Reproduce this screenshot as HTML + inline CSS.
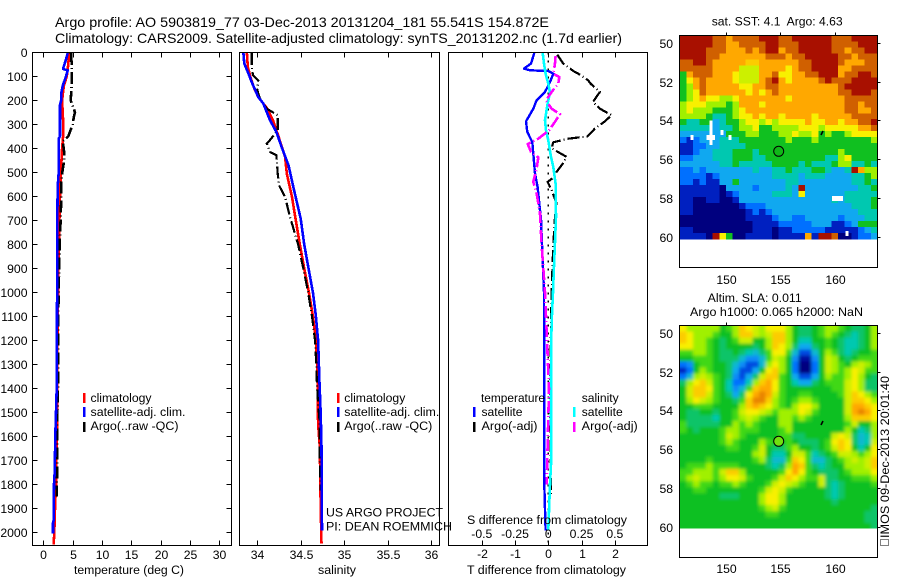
<!DOCTYPE html>
<html><head><meta charset="utf-8"><title>Argo profile</title>
<style>
html,body{margin:0;padding:0;background:#fff}
svg{display:block}
text{font-family:"Liberation Sans",sans-serif;font-size:12.2px;fill:#000;white-space:pre}
.b{fill:none;stroke:#000;stroke-width:1;shape-rendering:crispEdges}
</style></head><body>
<svg id="root" xmlns="http://www.w3.org/2000/svg" width="900" height="580" viewBox="0 0 900 580">
<defs>
<clipPath id="cp1"><rect x="32.5" y="52.5" width="199" height="493"/></clipPath>
<clipPath id="cp2"><rect x="239.5" y="52.5" width="200" height="493"/></clipPath>
<clipPath id="cp3"><rect x="448.5" y="52.5" width="199" height="493"/></clipPath>
<clipPath id="cpm2"><rect x="679.5" y="325.5" width="198" height="203"/></clipPath>
<filter id="slaBlur" filterUnits="userSpaceOnUse" x="650" y="300" width="250" height="260"><feGaussianBlur stdDeviation="1.7"/></filter>
</defs>
<text x="55" y="27" style="font-size:14px" textLength="494" lengthAdjust="spacingAndGlyphs">Argo profile: AO 5903819_77 03-Dec-2013 20131204_181 55.541S 154.872E</text>
<text x="55" y="43" style="font-size:14px" textLength="567" lengthAdjust="spacingAndGlyphs">Climatology: CARS2009. Satellite-adjusted climatology: synTS_20131202.nc (1.7d earlier)</text>
<g id="p1" clip-path="url(#cp1)"></g>
<g id="p2" clip-path="url(#cp2)"></g>
<g id="p3" clip-path="url(#cp3)"></g>
<g id="axes"></g>
<rect class="b" x="32.5" y="52.5" width="199" height="493"/>
<rect class="b" x="239.5" y="52.5" width="200" height="493"/>
<rect class="b" x="448.5" y="52.5" width="199" height="493"/>
<text x="74" y="574" textLength="110" lengthAdjust="spacingAndGlyphs">temperature (deg C)</text>
<text x="318" y="574" textLength="38" lengthAdjust="spacingAndGlyphs">salinity</text>
<text x="467" y="574" textLength="159" lengthAdjust="spacingAndGlyphs">T difference from climatology</text>
<text x="467" y="524" textLength="160" lengthAdjust="spacingAndGlyphs">S difference from climatology</text>
<g shape-rendering="crispEdges">
<rect x="83" y="393" width="2.5" height="10" fill="#f00"/>
<rect x="83" y="407" width="2.5" height="10" fill="#00f"/>
<rect x="83" y="422" width="2.5" height="10" fill="#000"/>
</g>
<text x="90.5" y="402" textLength="61" lengthAdjust="spacingAndGlyphs">climatology</text>
<text x="90.5" y="416" textLength="95" lengthAdjust="spacingAndGlyphs">satellite-adj. clim.</text>
<text x="90.5" y="430" textLength="88" lengthAdjust="spacingAndGlyphs">Argo(..raw -QC)</text>
<g shape-rendering="crispEdges">
<rect x="337" y="393" width="2.5" height="10" fill="#f00"/>
<rect x="337" y="407" width="2.5" height="10" fill="#00f"/>
<rect x="337" y="422" width="2.5" height="10" fill="#000"/>
</g>
<text x="344.3" y="402" textLength="61" lengthAdjust="spacingAndGlyphs">climatology</text>
<text x="344.3" y="416" textLength="95" lengthAdjust="spacingAndGlyphs">satellite-adj. clim.</text>
<text x="344.3" y="430" textLength="88" lengthAdjust="spacingAndGlyphs">Argo(..raw -QC)</text>
<g shape-rendering="crispEdges">
<rect x="473" y="407" width="2.5" height="10" fill="#00f"/>
<rect x="473" y="422" width="2.5" height="10" fill="#000"/>
<rect x="573" y="407" width="2.5" height="10" fill="#0ff"/>
<rect x="573" y="422" width="2.5" height="10" fill="#f0f"/>
</g>
<text x="481" y="402" textLength="64" lengthAdjust="spacingAndGlyphs">temperature</text>
<text x="481.5" y="416" textLength="41" lengthAdjust="spacingAndGlyphs">satellite</text>
<text x="481.5" y="430" textLength="56" lengthAdjust="spacingAndGlyphs">Argo(-adj)</text>
<text x="581.7" y="402" textLength="37" lengthAdjust="spacingAndGlyphs">salinity</text>
<text x="581.7" y="416" textLength="41" lengthAdjust="spacingAndGlyphs">satellite</text>
<text x="581.7" y="430" textLength="56" lengthAdjust="spacingAndGlyphs">Argo(-adj)</text>
<text x="326" y="516.7" textLength="117" lengthAdjust="spacingAndGlyphs">US ARGO PROJECT</text>
<text x="326" y="530.7" textLength="126" lengthAdjust="spacingAndGlyphs">PI: DEAN ROEMMICH</text>

<text x="711.7" y="25.7" textLength="131" lengthAdjust="spacingAndGlyphs">sat. SST: 4.1  Argo: 4.63</text>
<text x="707.7" y="302" textLength="94" lengthAdjust="spacingAndGlyphs">Altim. SLA: 0.011</text>
<text x="690" y="316" textLength="173" lengthAdjust="spacingAndGlyphs">Argo h1000: 0.065 h2000: NaN</text>
<g id="m1" shape-rendering="crispEdges"></g>
<g clip-path="url(#cpm2)"><g id="m2" filter="url(#slaBlur)" shape-rendering="crispEdges"></g></g>
<rect class="b" x="679.5" y="35.5" width="198" height="232"/>
<rect class="b" x="679.5" y="325.5" width="198" height="232"/>
<g id="maxes"></g>
<path d="M821 135 L822 133 L823 131" stroke="#000" stroke-width="1.6" fill="none"/>
<path d="M821 425 L822 423 L823 421" stroke="#000" stroke-width="1.6" fill="none"/>
<circle cx="778.7" cy="151.3" r="5" fill="#10b818" stroke="#000" stroke-width="1"/>
<circle cx="778.7" cy="441.3" r="5" fill="#70e010" stroke="#000" stroke-width="1"/>
<g transform="translate(889,546) rotate(-90)">
<rect x="0.5" y="-8.5" width="6" height="8" fill="none" stroke="#000" stroke-dasharray="1 1"/>
<text x="8" y="0" textLength="162" lengthAdjust="spacingAndGlyphs">IMOS 09-Dec-2013 20:01:40</text>
</g>
</svg>
<script>
const tempTicks=[0,5,10,15,20,25,30];
const salTicks=[34,34.5,35,35.5,36];
const salTickLabels=['34','34.5','35','35.5','36'];
const tDiffTicks=[-2,-1,0,1,2];
const sDiffTicks=[-0.5,-0.25,0,0.25,0.5];
const sDiffLabels=['-0.5','-0.25','0','0.25','0.5'];
const depthTicks=[0,100,200,300,400,500,600,700,800,900,1000,1100,1200,1300,1400,1500,1600,1700,1800,1900,2000];
const lonTicks=[150,155,160];
const latTicks=[50,52,54,56,58,60];

const tempClimDepth=[3,50,100,140,200,300,340,400,500,600,700,800,1000,1200,1400,1500,1700,1800,1900,2000,2050];
const tempClim=[4.4,4.26,4.0,3.5,3.2,3.4,3.4,3.2,3.0,2.85,2.75,2.65,2.5,2.42,2.33,2.4,2.2,2.16,2.0,1.87,1.77];
const tempSatDepth=[3,30,65,70,75,100,140,170,200,220,350,360,500,560,700,1000,1400,1500,1600,1750,1800,1950,1960,2005];
const tempSat=[4.15,3.87,3.4,3.4,4.15,3.87,3.3,3.07,3.05,2.85,2.85,2.62,2.62,2.45,2.38,2.35,2.28,2.16,2.05,1.95,1.82,1.77,1.65,1.65];
const tempArgoDepth=[3,50,100,150,200,250,270,300,350,370,420,460,500,550,600,700,800,1000,1200,1400,1500,1600,1850];
const tempArgo=[4.72,4.83,4.83,4.8,4.66,5.4,5.2,5.0,4.26,3.3,3.58,3.5,3.24,3.05,3.07,2.95,2.8,2.6,2.5,2.5,2.4,2.4,2.3];

const salClimDepth=[3,61,103,151,186,235,283,346,436,505,603,693,800,900,1000,1100,1200,1300,1367,1548,1644,1894,2046];
const salClim=[33.88,33.89,33.92,33.965,34.01,34.115,34.18,34.24,34.32,34.34,34.4,34.44,34.49,34.54,34.595,34.64,34.675,34.69,34.695,34.7,34.72,34.73,34.74];
const salSatDepth=[3,47,90,124,186,214,283,332,394,471,561,693,800,900,1000,1100,1200,1300,1367,1506,1644,1992];
const salSat=[33.84,33.85,33.9,33.935,34.01,34.07,34.146,34.22,34.28,34.36,34.415,34.5,34.54,34.59,34.64,34.675,34.7,34.71,34.715,34.73,34.74,34.745];
const salArgoDepth=[3,61,96,117,158,193,235,262,325,374,380,415,429,505,554,603,686,800,900,1000,1100,1200,1300,1367,1464,1548,1700,1825];
const salArgo=[33.935,33.935,33.95,34.01,34.0,34.03,34.11,34.235,34.235,34.127,34.11,34.146,34.22,34.235,34.25,34.32,34.377,34.47,34.53,34.585,34.63,34.665,34.68,34.685,34.7,34.72,34.72,34.73];

const diffTSatDepth=[3,47,68,75,78,89,124,165,200,235,288,332,374,422,505,561,658,693,800,900,1000,1367,1800,1992];
const diffTSat=[-0.42,-0.52,-0.73,-0.55,0,0.15,0.05,-0.1,-0.35,-0.45,-0.67,-0.63,-0.48,-0.45,-0.4,-0.32,-0.25,-0.22,-0.19,-0.16,-0.13,-0.12,-0.12,-0.08];
const diffSSatDepth=[3,47,89,131,167,214,283,325,367,436,478,547,686,800,900,1000,1100,1200,1367,1500,1700,1800,1992];
const diffSSat=[-0.042,-0.032,-0.02,0,0.0125,-0.005,-0.025,-0.017,0,0.02,0.0376,0.055,0.058,0.05,0.042,0.035,0.027,0.022,0.02,0.02,0.022,0.013,0];
const diffTArgoDepth=[10,47,78,89,117,131,165,207,235,262,290,318,350,360,375,400,436,463,498,522,540,574,630,686,800,1000,1400,1850];
const diffTArgo=[0.27,0.45,0.75,0.9,1.2,1.27,1.55,1.34,1.55,1.9,1.68,1.4,1.18,0.6,0.15,0.1,0.55,0.44,0.25,0.15,-0.02,0.1,0.25,0.2,0.15,0.1,0.05,0.08];
const diffSArgoDepth=[15,50,89,103,131,165,200,235,258,290,325,360,382,415,438,483,540,590,672,800,1000,1400,1800];
const diffSArgo=[0.055,0.05,0.0376,0.083,0.075,0.025,-0.017,0.025,0.088,0.05,0.005,-0.075,-0.155,-0.13,-0.075,-0.087,-0.113,-0.087,-0.0625,-0.05,-0.025,0.005,-0.012];
const zeroLineDepth=[0,2050];
const zeroLine=[0,0];

const sstGrid=[
[10,10,10,10,10,9,9,8,9,9,9,9,10,10,10,9,9,10,10,10,10,10,10,9,9,9,10,10,10,10],
[10,10,10,10,10,9,9,8,8,9,9,9,9,10,10,9,9,9,10,10,10,10,10,9,9,9,9,10,10,10],
[10,10,10,10,9,9,9,8,8,8,9,8,9,10,10,8,9,9,10,10,10,10,10,9,9,8,9,9,10,10],
[10,10,10,10,9,9,8,8,8,8,8,8,8,9,9,9,8,9,9,10,10,10,10,10,9,9,8,9,9,9],
[9,9,10,10,9,8,8,8,8,8,7.5,7.5,8,8,8,8,8,8,9,9,10,10,10,10,9,8,8,8,9,9],
[9,9,9,9,9,8,8,8,8,6.5,6.5,6.5,8,8,8,8,7,8,9,9,10,10,10,10,8,8,9,9,9,9],
[5,8,9,9,9,8,8,8,7,6.5,6.5,6.5,8,8,9,7,7,8,8,9,9,10,10,10,8,9,9,10,10,9],
[5,7,8,9,8,8,8,8,7,6.5,6.5,6.5,8,9,10,8,7,8,8,8,8,9,10,9,9,9,10,10,10,10],
[5,6,8,9,8,8,8,8,8,7,7,8,8,9,9,8,8,8,8,8,8,8,8,8,9,10,10,10,10,10],
[5,6,7,9,8,8,8,8,8,8,7,8,7,8,9,8,8,8,8,8,8,8,8,8,9,9,10,10,10,9],
[5,6,7,8,7,7,6,6,7,8,8,8,8,8,8,8,7,8,8,8,8,8,8,8,8,9,9,9,9,9],
[6,7,7,7,6,6,6,5,6,8,8,8,7,8,8,8,8,8,8,8,8,8,8,8,8,9,9,8,9,9],
[6,7,6,6,6,5,5,5,6,7,8,8,8,8,8,8,8,8,8,8,8,8,8,8,8,9,9,8,8,9],
[6,6,6,6,5,4,4,5,6,7,7,8,7,8,8,7,8,8,8,8,7,8,8,8,8,8,9,9,9,9],
[5,4,4,5,5,3,4,5,5,6,7,7,6,7,6,7,7,7,7,8,7,7,8,8,7,8,8,9,9,10],
[4,4,4,4,4,3,4,4,5,6,6,7,5,5,6,6,6,6,7,7,7,6,7,7,7,7,7,8,8,9],
[3,3,3,3,3,3,3,5,5,5,6,6,5,5,5,6,6,7,6,6,7,5,6,5,5,6,7,7,7,7],
[2,1,2,3,3,3,4,4,4,5,5,5,5,5,5,5,6,5,5,5,6,5,5,5,5,5,5,5,5,6],
[1,1,2,2,3,3,4,4,4,4,5,5,5,5,5,5,5,5,5,5,5,5,5,5,5,5,5,5,5,5],
[1,1,2,3,3,4,4,4,5,5,5,4,5,5,5,5,5,5,5,5,5,5,5,5,6,5,5,5,5,5],
[2,2,3,3,3,4,4,4,5,5,5,4,4,5,5,5,5,5,5,5,5,5,4,4,6,7,5,5,5,5],
[3,3,3,3,3,3,4,4,5,4,4,4,4,4,5,5,5,5,4,5,4,4,4,5,6,6,4,4,5,4],
[2,2,3,2,3,3,3,3,3,3,3,4,3,3,4,4,5,4,4,4,5,5,4,3,3,4,10,8,6,6],
[2,2,2,2,1,2,3,3,3,3,3,3,3,3,4,4,4,4,3,4,4,4,3,3,3,3,4,4,5,6],
[2,2,1,2,1,1,3,3,5,3,3,3,3,3,3,3,4,4,3,3,3,3,3,3,3,3,4,4,5,4],
[1,1,1,1,1,1,0,3,3,3,3,2,3,3,3,3,4,3,10,3,3,3,3,3,3,3,3,4,4,5],
[1,1,1,1,1,1,0,1,2,3,3,3,3,3,4,4,4,3,7,3,3,3,3,3,3,4,4,4,4,4],
[1,1,0,0,1,1,0,0,1,3,3,3,3,3,3,3,3,3,3,3,3,3,3,4,3,4,4,4,4,5],
[1,1,0,0,0,0,0,0,0,1,2,2,2,3,3,3,3,3,3,3,3,3,3,3,3,3,4,4,4,5],
[1,1,0,0,0,0,0,0,0,0,1,2,1,2,3,3,3,3,3,3,3,3,3,3,3,3,3,4,4,4],
[0,0,0,0,0,0,0,0,0,0,1,1,1,1,2,3,3,2,2,3,3,3,3,3,2,3,3,3,4,4],
[0,0,0,0,0,0,0,0,0,0,0,1,1,1,1,2,2,2,2,2,3,3,3,1,1,2,3,5,5,5],
[1,1,0,0,0,0,0,0,0,0,0,1,1,1,0,1,1,2,2,2,2,2,1,1,1,1,1,2,3,4],
[1,1,1,1,0,10,7,5,0,0,1,1,1,1,0,1,1,1,1,8,1,10,10,9,0,0,1,2,2,3]
];
const sstMissingLon=[148.5,148.5,148.5,148.5,148.5,148.25,148.75,149.5,150.25,146.75,159.75,160,160.25,160.5,161];
const sstMissingLat=[54,54.25,54.5,54.75,55,54.75,54.75,54.5,54.75,54.75,57.9,57.9,57.9,57.9,59.7];

const slaGrid=[
[7,6,6,6,6,6,5,5.5,6,7.5,7,6.5,6,7,7,7,6,5,4.5,4.5,5,5.5,6,6,5.5,5,4.5,4.5,5,6],
[7.5,7,6,6,6,5.5,5,5,6,7.5,7.5,6.5,6,6.5,7.5,7.5,6,5,4.5,4.5,5,5.5,6,5.5,5,4.5,4,4.5,5,6],
[7.5,7,6,6,5.5,5,4.5,5,5.5,6.5,6.5,5,5,6,7.5,7.5,6,5,4,4,5,5,5.5,5,4.5,4,4,4.5,5,6],
[7,7,6,6,5.5,5,4.5,5,5,5,5,4.5,5,6,7.5,7,6,4.5,3,3,4.5,5,5.5,5,4.5,4,4,4.5,5,6],
[5.5,5.5,6,6,5.5,5,4.5,4.5,5,4.5,4,3.5,4.5,5.5,7,7,5.5,3.5,1.5,1.5,3.5,5,6,5.5,4.5,4,4.5,5,5,5.5],
[5,5,5.5,5.5,5.5,5,4.5,4.5,4.5,3.5,2.5,2.5,3.5,5.5,6.5,6,5,2.5,0.5,0.5,2.5,5,6.5,6,5,4.5,5,5.5,5.5,5.5],
[2,2.5,5,5.5,5.5,5,5,4.5,3.5,2.5,1.5,1.5,3.5,6,7,6,5,2,0,0,2,5,6.5,6,5.5,5,6,6.5,6,5.5],
[1,2,5,6,5.5,5,5,4.5,3,1.5,1.5,3,5,7,7.5,6,5,2,0,0,2,5,6.5,6,5.5,6,7,6.5,5.5,5.5],
[2,3.5,6,6.5,6,5.5,5,4.5,2.5,1.5,3,4.5,6.5,7.5,7.5,5.5,5,3,1.5,1.5,3,5,6,5.5,5.5,6,7,6,5,4.5],
[4.5,6,7,7.5,6.5,5.5,5,4,2,2,4,6,7.5,8,7,5.5,5,4,3,3,4.5,5,5.5,5.5,5.5,6.5,7,6,4.5,4.5],
[5,6.5,7.5,7.5,7,5.5,5,4,2.5,3.5,5.5,7.5,8,8,7,5.5,5,5,5,5,5,5,5,5.5,5.5,6.5,7,6,4.5,4.5],
[5,6.5,7.5,7.5,6.5,5.5,5,4.5,3,4.5,7,8,8.5,8,6.5,5.5,5,5,5.5,5.5,5,5,5,5,5.5,6.5,7.5,7,6,5.5],
[5,6,7,6.5,6,5.5,5,5,4.5,5.5,7.5,8.5,8.5,7.5,6,5.5,5,5.5,6,6,5.5,5,5,5,5,6.5,7.5,7.5,7,6],
[5,5,5.5,5.5,5.5,5,5,5,5,6,7.5,8,7.5,7,6,5.5,5,6,7,7,6,5,5,5,5,6.5,8,8,7.5,7],
[5,4.5,4.5,5,5,4.5,5,5,5.5,6.5,7,7,6.5,6,5.5,6,6,6,7,6.5,5.5,5,5,5,5,6.5,8,8.5,8,7],
[5,4.5,4.5,4.5,4.5,4,5,5,5.5,6,6.5,6,5.5,5,5,6,6,5.5,6,5.5,5,5,5,5,5,6,7.5,7.5,7.5,7],
[5.5,4.5,4.5,4.5,4.5,4.5,5,5,6,5.5,6,5.5,5,5,5,6,6,5,5,5,5,5,5,5,5,5.5,6.5,5,5,6],
[5.5,5,4.5,5,5,5,5.5,6,6,5.5,5.5,5.5,5,5,5,5.5,6,5,5,5,5,5,5,5,5,6,5,4,4.5,6],
[5,5,5,5,5,5,5.5,6.5,6,5.5,5,5,5,5,5,5.5,5.5,4.5,4.5,5,5,5,5,6.5,7,6.5,4.5,3.5,4,6],
[5,5,5,5,5,5,5.5,6,5.5,5,5,5,6,5.5,5,5,5.5,5,4.5,4.5,4.5,5,5.5,7,7.5,7,4.5,3.5,4,6.5],
[5,5,5,5,5,5,5,5.5,5.5,5,5,5.5,6.5,5,4.5,4.5,5.5,6,5,5,4.5,5,5.5,6.5,7.5,7,5,4,5,7],
[5,5,5,5,5,5,5,5,5,5,5,6,6.5,5,4,4,5,6.5,6.5,5.5,4,4.5,5,5.5,6.5,6.5,6,5.5,6,7],
[5,5,5,5,5.5,5,5,5,5,5,5,5.5,6,4.5,3.5,3.5,5.5,7.5,7,5.5,3.5,3.5,4.5,5,5.5,6,6.5,6,6.5,7.5],
[5,5.5,5.5,5.5,6,5.5,5.5,5.5,5.5,5,5,5,5,4.5,4,4.5,6,8,7.5,5.5,4.5,4,4.5,5,5,6,6,6,6.5,7.5],
[5.5,5.5,6,6,6,5.5,6.5,7.5,7.5,6,5,5,5,5,5,5.5,7,8,7,5.5,5,4.5,4.5,4.5,5,5.5,6,6,6,7],
[5.5,6,6.5,6,6,5.5,6,7,7,6.5,5.5,5,5,5,5.5,6.5,7.5,7,6,5.5,5.5,6.5,4.5,4.5,5,5,5.5,5.5,5.5,6],
[5,5.5,6,5.5,5.5,5,5.5,5.5,6,5.5,5,5,5,5.5,6.5,7,6.5,6,5.5,5,5,6.5,4.5,4,4.5,5,5,5,5,5.5],
[5,5,5.5,5.5,5,5,5,5,5,5,5,5,5.5,6.5,7,6.5,5.5,5,5,5,5,5,4.5,4,4.5,5,5,5,5,5],
[5,5,5,5,5,5,4.5,4.5,4.5,5,5,5,6,7,7,6,5,5,5,5,5,5,4.5,4,4.5,5,5,5,5,5],
[5,5,5,5,5,5,5,5,5,5,5,5,6,7,7,6,5,5,5,5,5,5,5,4.5,5,5,5,5,5,5],
[5,5,5,5,5,5,5,5,5,5,5,5,5.5,6,6.5,5.5,5,5,5,5,5,5,5,5,5,5,5,5,5,4.5],
[5,5,5,5,5,5,5,5,5,5,5,5,5,5.5,5.5,5,5,5,5,5,5,5,5,5,5,5,5,5,4.5,4.5],
[5,5,5,5,5,5,5,5,5,5,5,5,5,5,5,5,5,5,5,5,5,5,5,5,5,5,5,5,4.5,4.5],
[5,5,5,5,5,5,5,5,5,5,5,5,5,5,5,5,5,5,5,5,5,5,5,5,5,5,5,5,5,4.5]
];

const NS='http://www.w3.org/2000/svg';
const depthY=d=>52.3+d*0.24;
const tempX=t=>43.3+t*5.87;
const salX=s=>257.3+(s-34)*86.8;
const tDiffX=t=>548.3+t*33.3;
const sDiffX=s=>548.3+s*133;
const lonX=l=>725.7+(l-150)*10.9;
const latY1=l=>42.7+(l-50)*19.43;
const latY2=l=>332.7+(l-50)*19.43;
const gridLon0=145.78,gridDLon=0.6055,gridLat0=49.63,gridDLat=0.3078;
const cmapStops=[[0,0,0,127],[1,0,32,192],[2,0,112,255],[3,16,168,240],[4,0,200,176],[5,16,192,32],[5.5,64,216,24],[6,160,240,0],[7,248,240,0],[8,255,168,0],[9,208,96,0],[10,168,16,0]];
function cmap(v){
  for(let i=1;i<cmapStops.length;i++){
    if(v<=cmapStops[i][0]){
      const a=cmapStops[i-1],b=cmapStops[i],f=Math.max(0,(v-a[0])/(b[0]-a[0]));
      return 'rgb('+[1,2,3].map(k=>Math.round(a[k]+(b[k]-a[k])*f)).join(',')+')';
    }
  }
  return 'rgb(168,16,0)';
}
function mk(parent,tag,attrs,name){
  const el=document.createElementNS(NS,tag);
  for(const k in attrs)el.setAttribute(k,attrs[k]);
  
  
  parent.appendChild(el);
  return el;
}
function series(parent,xf,vals,depths,color,dash,width,name){
  const pts=vals.map((v,i)=>xf(v).toFixed(1)+','+depthY(depths[i]).toFixed(1)).join(' ');
  const a={points:pts,fill:'none',stroke:color,'stroke-width':width,'stroke-linejoin':'round','shape-rendering':'crispEdges'};
  if(dash)a['stroke-dasharray']=dash;
  mk(parent,'polyline',a,name);
}
const dashArgo='12 3 1 3';
const p1=document.getElementById('p1'),p2=document.getElementById('p2'),p3=document.getElementById('p3');
series(p1,tempX,tempClim,tempClimDepth,'#f00',null,2.6,'temperature-climatology-line');
series(p1,tempX,tempArgo,tempArgoDepth,'#000',dashArgo,2.6,'temperature-argo-line');
series(p1,tempX,tempSat,tempSatDepth,'#00f',null,2.6,'temperature-satellite-line');
series(p2,salX,salClim,salClimDepth,'#f00',null,2.6,'salinity-climatology-line');
series(p2,salX,salArgo,salArgoDepth,'#000',dashArgo,2.2,'salinity-argo-line');
series(p2,salX,salSat,salSatDepth,'#00f',null,2.6,'salinity-satellite-line');
series(p3,tDiffX,zeroLine,zeroLineDepth,'#000','2 6',1.6,'zero-difference-line');
series(p3,tDiffX,diffTSat,diffTSatDepth,'#00f',null,2.4,'t-difference-satellite-line');
series(p3,tDiffX,diffTArgo,diffTArgoDepth,'#000',dashArgo,2.2,'t-difference-argo-line');
series(p3,sDiffX,diffSSat,diffSSatDepth,'#0ff',null,2.6,'s-difference-satellite-line');
series(p3,sDiffX,diffSArgo,diffSArgoDepth,'#f0f',dashArgo,2.6,'s-difference-argo-line');

const axes=document.getElementById('axes');
function tick(g,x1,y1,x2,y2,name){mk(g,'line',{x1:x1,y1:y1,x2:x2,y2:y2,stroke:'#000','shape-rendering':'crispEdges'},name);}
function label(g,x,y,t,anchor,name){
  const el=mk(g,'text',{x:x,y:y,'text-anchor':anchor},name);
  el.textContent=t;
}
function xAxis(xf,ticks,labels,base,name){
  ticks.forEach((v,i)=>{
    const x=Math.round(xf(v))+0.5;
    tick(axes,x,52.5,x,57.5,name+'-top-tick');
    tick(axes,x,545.5,x,540.5,name+'-bottom-tick');
    label(axes,x,base,labels[i],'middle',name+'-tick-label');
  });
}
xAxis(tempX,tempTicks,tempTicks.map(String),559,'temperature-axis');
xAxis(salX,salTicks,salTickLabels,559,'salinity-axis');
xAxis(tDiffX,tDiffTicks,tDiffTicks.map(String),558,'t-difference-axis');
sDiffTicks.forEach((v,i)=>{label(axes,sDiffX(v),538,sDiffLabels[i],'middle','s-difference-tick-label');});
depthTicks.forEach(d=>{
  const y=Math.round(depthY(d))+0.5;
  tick(axes,32.5,y,37.5,y,'depth-left-tick');
  tick(axes,231.5,y,226.5,y,'depth-right-tick');
  label(axes,27.5,y+4.5,String(d),'end','depth-tick-label');
});

function heat(g,grid,latY,bleed,name){
  grid.forEach((row,r)=>{
    row.forEach((v,c)=>{
      let x=lonX(gridLon0+c*gridDLon),y=latY(gridLat0+r*gridDLat);
      let x2=lonX(gridLon0+(c+1)*gridDLon),y2=latY(gridLat0+(r+1)*gridDLat);
      if(bleed){
        if(c===0)x-=bleed;
        if(c===row.length-1)x2+=bleed;
        if(r===0)y-=bleed;
        if(r===grid.length-1)y2+=bleed;
      }
      mk(g,'rect',{x:x.toFixed(2),y:y.toFixed(2),width:(x2-x+0.4).toFixed(2),height:(y2-y+0.4).toFixed(2),fill:cmap(v)},name);
    });
  });
}
const m1=document.getElementById('m1'),m2=document.getElementById('m2');
heat(m1,sstGrid,latY1,0,'sst-cell');
sstMissingLon.forEach((l,i)=>{
  mk(m1,'rect',{x:lonX(l).toFixed(1),y:latY1(sstMissingLat[i]).toFixed(1),width:3,height:4.9,fill:'#fff'},'sst-missing-cell');
});
heat(m2,slaGrid,latY2,12,'sla-cell');

const maxes=document.getElementById('maxes');
[[35.5,latY1,284],[325.5,latY2,573]].forEach(([top,latY,base],mi)=>{
  const nm=mi===0?'sst-map':'sla-map';
  lonTicks.forEach(l=>{
    const x=Math.round(lonX(l))+0.5;
    tick(maxes,x,top,x,top-3,nm+'-top-tick');
    label(maxes,x,base,String(l),'middle',nm+'-lon-label');
  });
  latTicks.forEach(l=>{
    const y=Math.round(latY(l))+0.5;
    tick(maxes,877.5,y,880.5,y,nm+'-right-tick');
    label(maxes,673,y+4.5,String(l),'end',nm+'-lat-label');
  });
});
</script>
</body></html>
